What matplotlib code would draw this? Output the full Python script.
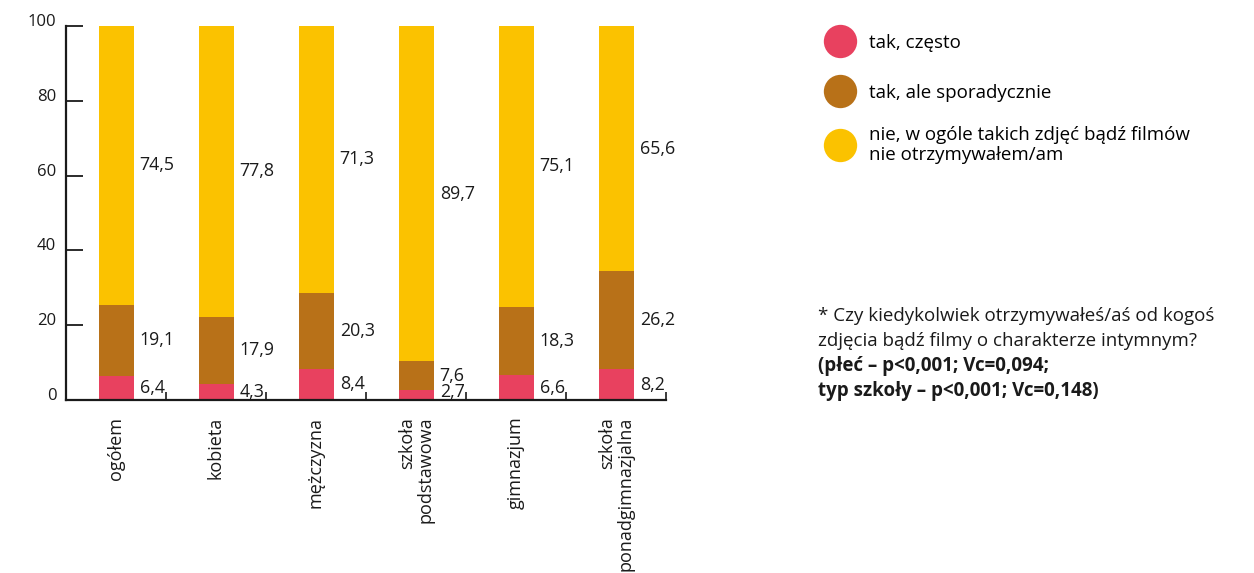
import numpy as np
import matplotlib
matplotlib.use("Agg")
import matplotlib.pyplot as plt
from matplotlib.lines import Line2D
from matplotlib.transforms import ScaledTranslation

plt.rcParams['font.family'] = ['Open Sans', 'DejaVu Sans']

categories = ["ogółem", "kobieta", "mężczyzna", "szkoła\npodstawowa",
              "gimnazjum", "szkoła\nponadgimnazjalna"]
czesto = [6.4, 4.3, 8.4, 2.7, 6.6, 8.2]
sporadycznie = [19.1, 17.9, 20.3, 7.6, 18.3, 26.2]
nie = [74.5, 77.8, 71.3, 89.7, 75.1, 65.6]

series_labels = ["tak, często", "tak, ale sporadycznie",
                 "nie, w ogóle takich zdjęć bądź filmów\nnie otrzymywałem/am"]
colors = ["#E8415F", "#B87118", "#FBC200"]
y_ticks = [0, 20, 40, 60, 80, 100]

FS = 12.8
TXT = "#1a1a1a"

fig = plt.figure(figsize=(12.54, 5.73), dpi=100)
ax = fig.add_axes([66 / 1254, 1 - 400 / 573, 600 / 1254, 374 / 573])

x = np.arange(len(categories))
width = 0.35
bottom = np.zeros(len(categories))
for vals, col in zip([czesto, sporadycznie, nie], colors):
    vals = np.array(vals)
    ax.bar(x, vals, width, bottom=bottom, color=col, linewidth=0)
    for xi, b, v in zip(x, bottom, vals):
        # tiny segments: nudge the label up a bit so it clears the axis
        dy = 2 if v < 3 else 0
        ax.annotate(f"{v:.1f}".replace(".", ","), xy=(xi + width / 2, b + v / 2),
                    xytext=(4.5, dy), textcoords="offset points",
                    ha="left", va="center", fontsize=FS, color=TXT)
    bottom += vals

ax.set_xlim(-0.5, len(categories) - 0.5)
ax.set_ylim(0, 100)

for s in ["top", "right"]:
    ax.spines[s].set_visible(False)
for s in ["left", "bottom"]:
    ax.spines[s].set_linewidth(1.6)
    ax.spines[s].set_color(TXT)

ax.set_yticks(y_ticks)
ax.set_yticklabels([str(t) for t in y_ticks], fontsize=12, color=TXT)
ax.tick_params(axis="y", direction="in", length=12, width=1.3, pad=7, color=TXT)
offset = ScaledTranslation(0, 6 / 100, fig.dpi_scale_trans)
for lab in ax.get_yticklabels():
    lab.set_transform(lab.get_transform() + offset)

ax.set_xticks(x)
ax.set_xticklabels(categories, rotation=90, fontsize=13, va="top", ha="center",
                   multialignment="right", color=TXT, linespacing=1.0)
ax.tick_params(axis="x", which="major", length=0, pad=12)
ax.set_xticks(x + 0.5, minor=True)
ax.tick_params(axis="x", which="minor", direction="in", length=6, width=1.2, color=TXT)

# legend: one entry per row, rows placed like in the original
row_y = [43, 93, 145]
for c, lab, ry in zip(colors, series_labels, row_y):
    h = Line2D([0], [0], marker="o", linestyle="none", markersize=24,
               markerfacecolor=c, markeredgewidth=0)
    fig.legend([h], [lab], loc="center left", bbox_to_anchor=(825 / 1254, 1 - ry / 573),
               frameon=False, fontsize=13.5, handletextpad=0.75, borderpad=0,
               handlelength=1.6, borderaxespad=0)

notes = [("* Czy kiedykolwiek otrzymywałeś/aś od kogoś", "normal"),
         ("zdjęcia bądź filmy o charakterze intymnym?", "normal"),
         ("(płeć – p<0,001; Vc=0,094;", "bold"),
         ("typ szkoły – p<0,001; Vc=0,148)", "bold")]
for k, (line, w) in enumerate(notes):
    fig.text(818 / 1254, 1 - (316 + 25 * k) / 573, line,
             fontsize=13.5, va="center", fontweight=w, color=TXT)

fig.savefig("out.png", dpi=100)
